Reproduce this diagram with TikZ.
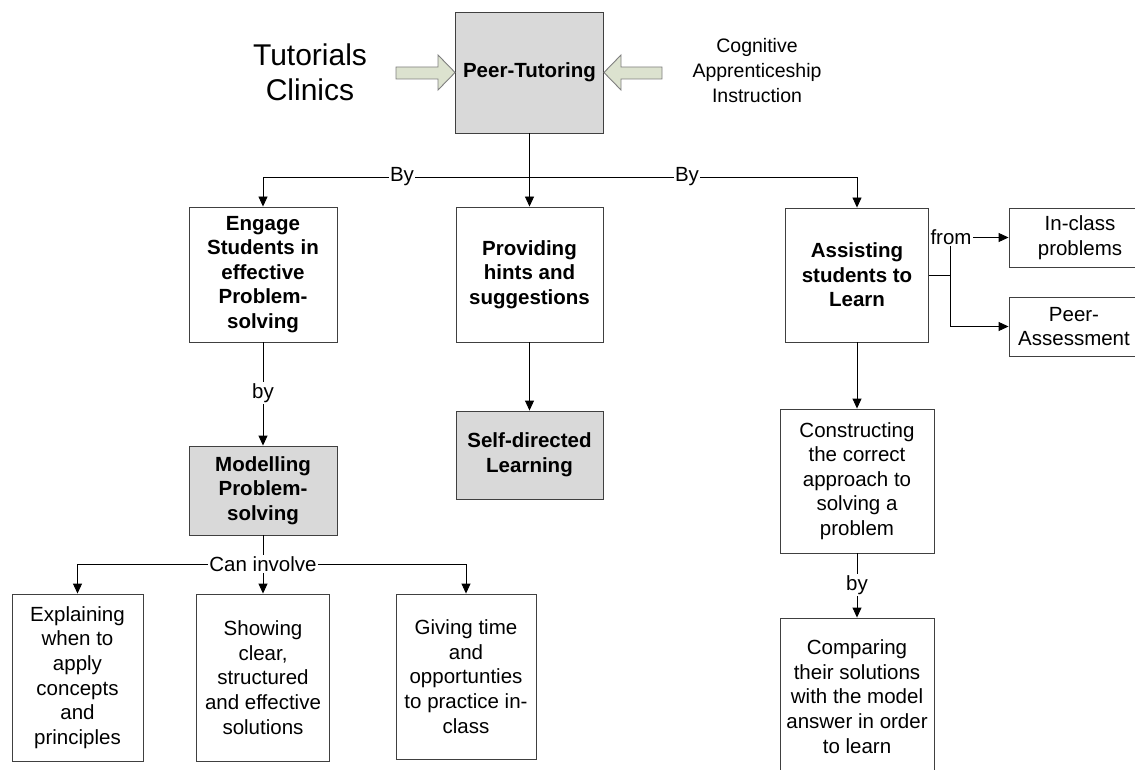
\documentclass[tikz,border=0pt]{standalone}
\usepackage{fontspec}
\setmainfont{Liberation Sans}
\usetikzlibrary{arrows.meta}
\definecolor{boxgray}{HTML}{D9D9D9}
\definecolor{arrowfill}{HTML}{DCE2CF}
\definecolor{arrowline}{HTML}{7F7F7F}
\definecolor{edgecol}{HTML}{404040}
\begin{document}
\begin{tikzpicture}[x=1pt,y=-1pt,
  txt/.style={font=\fontsize{20.5}{24.6}\selectfont, align=center},
  box/.style={draw=edgecol, line width=0.9pt, fill=white, inner sep=0pt, txt},
  bbox/.style={box, font=\fontsize{20.5}{24.6}\selectfont\bfseries},
  gbox/.style={bbox, fill=boxgray},
  conn/.style={line width=0.9pt, black},
  arr/.style={conn, -{Triangle[length=10pt,width=9pt]}},
  lbl/.style={txt, fill=white, inner sep=1pt},
  blockarrow/.style={draw=arrowline, fill=arrowfill, line width=0.9pt, line join=miter}
]
\useasboundingbox (0,0) rectangle (1135,770);
\clip (0,0) rectangle (1135,770);

% nodes
\node[gbox, minimum width=148pt, minimum height=121pt] (pt) at (529.5,72.5) {Peer-Tutoring};
\node[txt, font=\fontsize{30}{35}\selectfont] (tut) at (310,72) {Tutorials\\Clinics};
\node[txt, font=\fontsize{19.5}{25}\selectfont] (cog) at (757,71) {Cognitive\\Apprenticeship\\Instruction};

\node[bbox, minimum width=148pt, minimum height=135pt] (engage) at (263,274.5) {Engage\\Students in\\effective\\Problem-\\solving};
\node[bbox, minimum width=147pt, minimum height=135pt] (prov) at (529.5,274.5) {Providing\\hints and\\suggestions};
\node[bbox, minimum width=143pt, minimum height=134pt] (assist) at (857,275) {Assisting\\students to\\Learn};

\node[gbox, minimum width=148pt, minimum height=89pt] (model) at (263,490.5) {Modelling\\Problem-\\solving};
\node[gbox, minimum width=147pt, minimum height=88pt] (self) at (529.5,455) {Self-directed\\Learning};

\node[box, minimum width=142pt, minimum height=59pt] (inclass) at (1080,237.5) {In-class\\problems};
\node[box, minimum width=142pt, minimum height=59pt, text width=142pt] (peerass) at (1080,326.5) {\hspace*{-12pt}Peer-\\\hspace*{-12pt}Assessment};

\node[box, minimum width=154pt, minimum height=144pt] (cons) at (857,481) {Constructing\\the correct\\approach to\\solving a\\problem};
\node[box, minimum width=154pt, minimum height=157pt] (comp) at (857,696.5) {Comparing\\their solutions\\with the model\\answer in order\\to learn};

\node[box, minimum width=131pt, minimum height=167pt] (expl) at (77.5,677.5) {Explaining\\when to\\apply\\concepts\\and\\principles};
\node[box, minimum width=133pt, minimum height=167pt] (show) at (263,677.5) {Showing\\clear,\\structured\\and effective\\solutions};
\node[box, minimum width=140pt, minimum height=165pt] (give) at (466,676.5) {Giving time\\and\\opportunties\\to practice in-\\class};

% block arrows
\draw[blockarrow] (396,67) -- (438,67) -- (438,55) -- (pt.west) -- (438,90) -- (438,79) -- (396,79) -- cycle;
\draw[blockarrow] (662,67) -- (621,67) -- (621,55) -- (pt.east) -- (621,90) -- (621,79) -- (662,79) -- cycle;

% top connectors
\coordinate (tj) at (529.5,177);
\draw[conn] (pt.south) -- (tj);
\draw[arr] (tj) -| (engage.north);
\draw[arr] (tj) -| (assist.north);
\draw[arr] (tj) -- (prov.north);
\node[lbl] (by1) at (402,177) {By};
\node[lbl] (by2) at (687,177) {By};

% engage -> modelling
\draw[arr] (engage.south) -- (model.north);
\node[lbl] (by3) at (263,393) {by};

% providing -> self-directed
\draw[arr] (prov.south) -- (self.north);

% assisting -> right boxes
\coordinate (fj) at (950,275);
\draw[conn] (assist.east) -- (fj);
\draw[arr] (fj) |- (inclass.west);
\draw[arr] (fj) |- (peerass.west);
\node[lbl] (from) at (951,237) {from};

% assisting -> constructing -> comparing
\draw[arr] (assist.south) -- (cons.north);
\draw[arr] (cons.south) -- (comp.north);
\node[lbl] (by4) at (857,585) {by};

% modelling -> three boxes
\coordinate (mj) at (263,564);
\draw[conn] (model.south) -- (mj);
\draw[arr] (mj) -| (expl.north);
\draw[arr] (mj) -| (give.north);
\draw[arr] (mj) -- (show.north);
\node[lbl] (can) at (mj) {Can involve};
\end{tikzpicture}
\end{document}
